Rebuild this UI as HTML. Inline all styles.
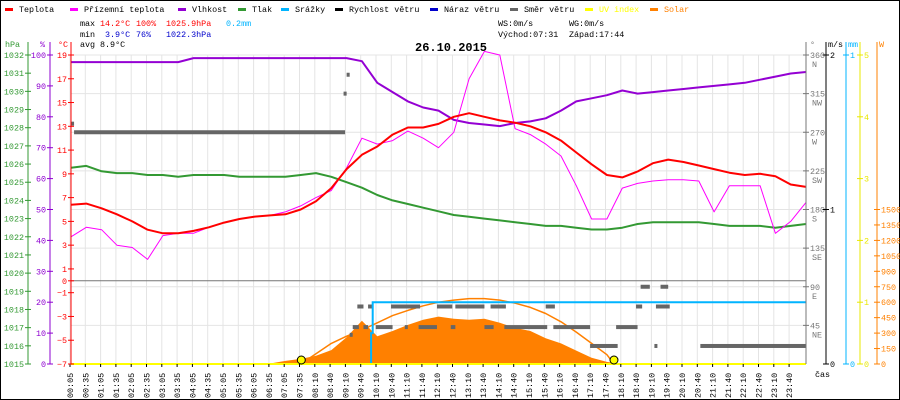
<!DOCTYPE html>
<html><head><meta charset="utf-8"><style>
html,body{margin:0;padding:0;background:#fff}
svg{display:block;font-family:"Liberation Mono",monospace;font-size:8.4px}
</style></head><body>
<svg id="c" width="900" height="400" viewBox="0 0 900 400" xmlns="http://www.w3.org/2000/svg">
<rect x="0.5" y="0.5" width="899" height="399" fill="#fff" stroke="#000"/>
<g id="grid"></g>
<g id="series"></g>
<g id="axes"></g>
<g id="legend"></g>
<g>
<text x="80" y="26" fill="#000">max</text><text x="100" y="26" fill="#f00">14.2°C</text><text x="136" y="26" fill="#f00">100%</text><text x="166" y="26" fill="#f00">1025.9hPa</text><text x="226" y="26" fill="#00b4ff">0.2mm</text>
<text x="80" y="37" fill="#000">min</text><text x="105" y="37" fill="#0000cc">3.9°C</text><text x="136" y="37" fill="#0000cc">76%</text><text x="166" y="37" fill="#0000cc">1022.3hPa</text>
<text x="80" y="47" fill="#000">avg</text><text x="100" y="47" fill="#000">8.9°C</text>
<text x="498" y="26" fill="#000">WS:0m/s</text><text x="569" y="26" fill="#000">WG:0m/s</text>
<text x="498" y="37" fill="#000">Východ:07:31</text><text x="569" y="37" fill="#000">Západ:17:44</text>
</g>
<text x="415" y="51" font-size="12px" font-weight="bold" fill="#000">26.10.2015</text>
</svg>
<script>
const halfHours = Array.from({length:49},(_,i)=>i*0.5);
const tempC = [6.4,6.5,6.1,5.6,5.0,4.3,4.0,4.0,4.2,4.5,4.9,5.2,5.4,5.5,5.6,6.0,6.7,7.8,9.4,10.6,11.3,12.3,12.9,12.9,13.2,13.8,14.1,13.8,13.5,13.3,13.0,12.5,11.8,10.8,9.8,8.9,8.7,9.2,9.9,10.2,10.0,9.7,9.4,9.1,8.9,9.0,8.8,8.1,7.9];
const apparentC = [3.7,4.5,4.3,3.0,2.8,1.8,3.8,4.0,4.0,4.5,4.9,5.2,5.4,5.5,5.8,6.3,7.0,7.6,9.5,12.0,11.5,11.8,12.6,12.0,11.2,12.5,17.0,19.3,19.0,12.8,12.3,11.5,10.5,8.0,5.2,5.2,7.8,8.2,8.4,8.5,8.5,8.4,5.8,8.0,8.0,8.0,4.0,5.0,6.6];
const humidity = [97.7,97.7,97.7,97.7,97.7,97.7,97.7,97.7,99,99,99,99,99,99,99,99,99,99,99,98,91,88,85,83,82,79,78,77.5,77,78,78.5,79.5,82,85,86,87,88.5,87.5,88,88.5,89,89.5,90,90.5,91,92,93,94,94.5];
const pressure = [1025.8,1025.9,1025.6,1025.5,1025.5,1025.4,1025.4,1025.3,1025.4,1025.4,1025.4,1025.3,1025.3,1025.3,1025.3,1025.4,1025.5,1025.3,1025.0,1024.7,1024.3,1024.0,1023.8,1023.6,1023.4,1023.2,1023.1,1023.0,1022.9,1022.8,1022.7,1022.6,1022.6,1022.5,1022.4,1022.4,1022.5,1022.7,1022.8,1022.8,1022.8,1022.8,1022.7,1022.6,1022.6,1022.6,1022.5,1022.6,1022.7];
const solarT = [6,6.5,7,7.5,8,8.5,9,9.5,10,10.5,11,11.5,12,12.5,13,13.5,14,14.5,15,15.5,16,16.5,17,17.5,18];
const solarW = [0,5,30,50,80,135,260,420,270,320,380,430,460,440,430,440,400,350,320,250,200,130,60,20,0];
const arcT = [7.5,8,8.5,9,9.5,10,10.5,11,11.5,12,12.5,13,13.5,14,14.5,15,15.5,16,16.5,17,17.5,17.73];
const arcW = [0,100,200,270,330,400,470,520,565,600,620,635,635,620,590,550,490,410,310,200,90,0];
const rainT = [0,9.75,9.8,9.85,24];
const rainMm = [0,0,0.1,0.2,0.2];
const dirStart = [0,0.1,8.9,9.0,9.1,9.35,9.7,10.45,11.95,12.55,13.7,15.5,18.45,19.1,18.6,19.25,9.2,9.55,9.95,10.9,11.35,12.4,13.5,14.15,15.75,17.8,16.95,20.55,19.05];
const dirEnd   = [0.1,8.95,9.0,9.1,9.15,9.55,9.85,11.4,12.45,13.5,14.2,15.8,18.65,19.55,18.9,19.5,9.4,9.7,10.5,10.95,11.95,12.55,13.8,15.55,16.95,18.5,17.85,24.0,19.1];
const dirDeg   = [280,270,315,337,34,67,67,67,67,67,67,67,67,67,90,90,43,43,43,43,43,43,43,43,43,43,21,21,21];
const sunEvents = [7.52,17.73];
const timeLabels = ["00:05","00:35","01:05","01:35","02:05","02:35","03:05","03:35","04:05","04:35","05:05","05:35","06:05","06:35","07:05","07:35","08:10","08:40","09:10","09:40","10:10","10:40","11:10","11:40","12:10","12:40","13:10","13:40","14:10","14:40","15:10","15:40","16:10","16:40","17:10","17:40","18:10","18:40","19:10","19:40","20:10","20:40","21:10","21:40","22:10","22:40","23:10","23:40"];
const tempTicks = [19,17,15,13,11,9,7,5,3,1,0,-1,-3,-5,-7];
const humTicks = [0,10,20,30,40,50,60,70,80,90,100];
const presTicks = [1015,1016,1017,1018,1019,1020,1021,1022,1023,1024,1025,1026,1027,1028,1029,1030,1031,1032];
const dirTicks = [360,315,270,225,180,135,90,45];
const dirNames = ["N","NW","W","SW","S","SE","E","NE"];
const uvTicks = [0,1,2,3,4,5];
const wTicks = [150,300,450,600,750,900,1050,1200,1350,1500];

const NS="http://www.w3.org/2000/svg";
const X0=71,X1=806,YT=55,YB=364,H=YB-YT;
const xT=t=>X0+t*(X1-X0)/24;
const yTemp=v=>YB-(v+7)*H/26;
const yHum=v=>YB-v*H/100;
const yP=v=>YB-(v-1015)*H/17;
const yDir=d=>YB-d*H/360;
const yW=w=>YB-w*H/3000;
const yMm=m=>YB-m*H;
const yUV=u=>YB-u*H/5;
function mk(tag,attrs,parent,txt){const e=document.createElementNS(NS,tag);for(const k in attrs)e.setAttribute(k,attrs[k]);if(txt!==undefined)e.textContent=txt;parent.appendChild(e);return e;}
const G=document.getElementById('grid'),S=document.getElementById('series'),A=document.getElementById('axes'),L=document.getElementById('legend');

// grid
dirTicks.forEach(d=>{const e=mk('line',{x1:X0,x2:X1,y1:yDir(d),y2:yDir(d),stroke:'#e4e4e4'},G);

});
timeLabels.forEach((lb,i)=>{const x=70+i*15.3;const e=mk('line',{x1:x,x2:x,y1:YT,y2:YB,stroke:'#e4e4e4'},G);


const tk=mk('line',{x1:x,x2:x,y1:YB,y2:YB+3,stroke:'#000'},A);


const tx=mk('text',{x:0,y:0,transform:`translate(${x+3},398) rotate(-90)`,fill:'#000'},A,lb);

});
const zl=mk('line',{x1:X0,x2:X1,y1:yTemp(0),y2:yTemp(0),stroke:'#777'},G);



function poly(ts,vs,yf,col,w,name){const pts=ts.map((t,i)=>xT(t).toFixed(1)+','+yf(vs[i]).toFixed(1)).join(' ');const e=mk('polyline',{points:pts,fill:'none',stroke:col,'stroke-width':w,'stroke-linejoin':'round'},S);

return e;}

// solar area
{let pts=`${xT(solarT[0])},${YB} `+solarT.map((t,i)=>xT(t).toFixed(1)+','+yW(solarW[i]).toFixed(1)).join(' ')+` ${xT(solarT[solarT.length-1])},${YB}`;
const e=mk('polygon',{points:pts,fill:'#ff8000'},S);

}
poly(arcT,arcW,yW,'#ff8000',1.5,'clear-sky-solar-line');
// wind direction
dirDeg.forEach((d,i)=>{const e=mk('rect',{x:xT(dirStart[i]),y:yDir(d)-2,width:Math.max(3,xT(dirEnd[i])-xT(dirStart[i])),height:4,fill:'#666'},S);

});
// rain
{const pts=[];rainT.forEach((t,i)=>{if(i>0)pts.push(xT(t).toFixed(1)+','+yMm(rainMm[i-1]).toFixed(1));pts.push(xT(t).toFixed(1)+','+yMm(rainMm[i]).toFixed(1));});
const e=mk('polyline',{points:pts.join(' '),fill:'none',stroke:'#00b4ff','stroke-width':2},S);

}
poly(halfHours,pressure,yP,'#339933',2,'pressure-line');
poly(halfHours,humidity,yHum,'#9400d3',2,'humidity-line');
poly(halfHours,apparentC,yTemp,'#ff00ff',1,'apparent-temperature-line');
poly(halfHours,tempC,yTemp,'#ff0000',2,'temperature-line');
{const e=mk('line',{x1:X0,x2:X1,y1:YB,y2:YB,stroke:'#ffff00','stroke-width':2},S);

}
sunEvents.forEach(t=>{const e=mk('circle',{cx:xT(t),cy:YB-4,r:4,fill:'#ffff00',stroke:'#000'},S);

});

// axes
function axis(x,col,ticks,yf,labFn,side,name){const ln=mk('line',{x1:x,x2:x,y1:YT-13,y2:YB,stroke:col},A);


ticks.forEach(v=>{const y=yf(v);mk('line',{x1:x-3,x2:x+3,y1:y,y2:y,stroke:col},A);
const t=mk('text',{x:side<0?x-4:x+4,y:y+3,fill:col,'text-anchor':side<0?'end':'start'},A,labFn(v));

});}
axis(28,'#339933',presTicks,yP,v=>v,-1,'pressure-axis');
axis(50,'#8e00d0',humTicks,yHum,v=>v,-1,'humidity-axis');
axis(71,'#ff0000',tempTicks,yTemp,v=>v<0?'−'+(-v):v,-1,'temperature-axis');
axis(806,'#777',dirTicks,yDir,v=>v,1,'direction-axis');
dirTicks.forEach((d,i)=>{const t=mk('text',{x:812,y:yDir(d)+12,fill:'#777'},A,dirNames[i]);

});
axis(826,'#000',[0,1,2],v=>YB-v*H/2,v=>v,1,'wind-speed-axis');
axis(846,'#00b4ff',[0,1],yMm,v=>v,1,'rain-axis');
axis(860,'#e8e800',uvTicks,yUV,v=>v,1,'uv-axis');
axis(877,'#ff8000',[0].concat(wTicks),yW,v=>v,1,'solar-axis');
[["hPa",5,'#339933'],["%",40,'#8e00d0'],["°C",58,'#ff0000'],["°",810,'#777'],["m/s",828,'#000'],["mm",848,'#00b4ff'],["W",879,'#ff8000']].forEach(a=>{const t=mk('text',{x:a[1],y:47,fill:a[2]},A,a[0]);

});
{const t=mk('text',{x:815,y:377,fill:'#000'},A,'čas');

}

// legend
[["Teplota",5,'#ff0000'],["Přízemní teplota",70,'#ff00ff'],["Vlhkost",178,'#9400d3'],["Tlak",238,'#339933'],["Srážky",281,'#00b4ff'],["Rychlost větru",335,'#000'],["Náraz větru",430,'#0000cc'],["Směr větru",510,'#666'],["UV index",585,'#ffff00'],["Solar",650,'#ff8000']].forEach(l=>{
const g=mk('g',{},L);


mk('rect',{x:l[1],y:8,width:8,height:3,fill:l[2]},g);
mk('text',{x:l[1]+14,y:12,fill:(l[2]=='#ffff00'||l[2]=='#ff8000')?l[2]:'#000'},g,l[0]);});
</script>
</body></html>
